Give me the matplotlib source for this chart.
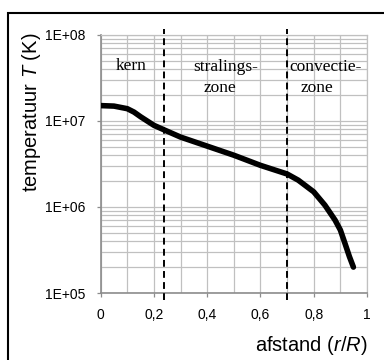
import matplotlib
matplotlib.use("Agg")
import matplotlib.pyplot as plt
import matplotlib.ticker as ticker
from matplotlib.patches import Rectangle

# temperature profile of the sun
r_frac = [0, 0.05, 0.1, 0.125, 0.15, 0.2, 0.25, 0.3, 0.4, 0.5, 0.6, 0.7,
          0.742, 0.8, 0.842, 0.88, 0.9, 0.917, 0.934, 0.949]
temp_K = [1.51e7, 1.49e7, 1.39e7, 1.27e7, 1.12e7, 8.9e6, 7.6e6, 6.5e6,
          5.1e6, 4.0e6, 3.05e6, 2.42e6, 2.05e6, 1.5e6, 1.05e6, 7.05e5,
          5.4e5, 3.8e5, 2.65e5, 2.0e5]

# zone boundaries
boundaries = [0.237, 0.698]

x_ticks = [0, 0.2, 0.4, 0.6, 0.8, 1.0]
x_ticklabels = ["0", "0,2", "0,4", "0,6", "0,8", "1"]
y_ticks = [1e5, 1e6, 1e7, 1e8]
y_ticklabels = ["1E+05", "1E+06", "1E+07", "1E+08"]

# zone labels, one entry per line of text
zone_lines = ["kern", "stralings-", "zone", "convectie-", "zone"]
zone_x = [0.116, 0.468, 0.446, 0.846, 0.812]
zone_y = [4.35e7, 4.3e7, 2.4e7, 4.3e7, 2.4e7]

plt.rcParams["font.family"] = "Liberation Sans"
plt.rcParams["mathtext.fontset"] = "custom"
plt.rcParams["mathtext.rm"] = "Liberation Sans"
plt.rcParams["mathtext.it"] = "Liberation Sans:italic"

fig = plt.figure(figsize=(3.84, 3.6), dpi=100)
ax = fig.add_axes([0.2622, 0.1861, 0.6935, 0.7167])

grid_col = "#c0c0c0"
axis_col = "#8c8c8c"

ax.set_xlim(0, 1)
ax.set_yscale("log")
ax.set_ylim(1e5, 1e8)

ax.set_xticks(x_ticks)
ax.set_xticklabels(x_ticklabels)
ax.xaxis.set_minor_locator(ticker.MultipleLocator(0.1))
ax.set_yticks(y_ticks)
ax.set_yticklabels(y_ticklabels)
ax.yaxis.set_minor_locator(ticker.LogLocator(base=10, subs=range(2, 10)))
ax.yaxis.set_minor_formatter(ticker.NullFormatter())

ax.grid(True, which="both", color=grid_col, linewidth=0.9)
ax.set_axisbelow(True)

ax.tick_params(which="major", direction="out", length=3, width=0.9,
               color=axis_col, labelsize=10, pad=8)
ax.tick_params(which="minor", length=0)

for side in ["left", "bottom"]:
    ax.spines[side].set_color(axis_col)
    ax.spines[side].set_linewidth(1.2)
for side in ["top", "right"]:
    ax.spines[side].set_color(grid_col)
    ax.spines[side].set_linewidth(0.9)

ax.plot(r_frac, temp_K, color="black", linewidth=4,
        solid_capstyle="round", solid_joinstyle="round", zorder=3)

for xb in boundaries:
    ax.plot([xb, xb], [0.83e5, 1.17e8], color="black", linewidth=1.4,
            linestyle=(0, (3.5, 2.2)), clip_on=False, zorder=4)

for txt, tx, ty in zip(zone_lines, zone_x, zone_y):
    ax.text(tx, ty, txt, family="Liberation Serif", fontsize=12.5,
            ha="center", va="center", zorder=5)

ax.set_ylabel("temperatuur $T$ (K)", fontsize=14.5, ha="center", va="center")
ax.yaxis.set_label_coords(-0.258, 0.70)
ax.set_xlabel("afstand ($r$/$R$)", fontsize=14.5, ha="right", va="center")
ax.xaxis.set_label_coords(1.003, -0.2016)

# outer frame, runs off the right and bottom edge
fig.add_artist(Rectangle((8 / 384, -0.05), 1.2, 0.05 + 1 - 13 / 360,
                         transform=fig.transFigure, fill=False,
                         edgecolor="black", linewidth=1.5))

fig.savefig("out.png", dpi=100)
